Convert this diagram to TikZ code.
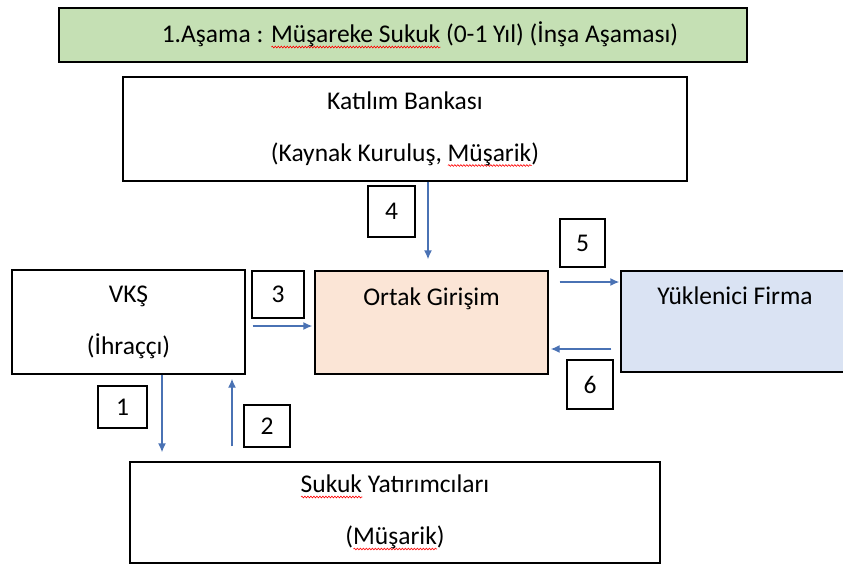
\documentclass[tikz,border=0pt]{standalone}
\usepackage{fontspec}
\setmainfont{Carlito}
\usetikzlibrary{decorations.pathmorphing,arrows.meta}
\definecolor{headgreen}{HTML}{C5E0B4}
\definecolor{jointpeach}{HTML}{FBE5D6}
\definecolor{firmblue}{HTML}{DAE3F3}
\definecolor{flowblue}{HTML}{4A72B4}
\newsavebox{\spellbox}
\newcommand{\spellmark}[1]{\sbox{\spellbox}{#1}\rlap{\tikz[baseline=0pt,x=1pt,y=1pt]\draw[red,line width=0.6pt,decorate,decoration={snake,amplitude=0.9pt,segment length=3pt}] (0pt,-4.5pt) -- (\the\wd\spellbox,-4.5pt);}\usebox{\spellbox}}

\begin{document}
\begin{tikzpicture}[x=1pt,y=-1pt]

    \tikzset{
      box/.style={
        draw,
        line width=1.4pt,
        align=center,
        inner sep=0pt,
        font=\fontsize{25.5}{52}\selectfont,
      },
      numbox/.style={
        box,
        font=\fontsize{25.5}{28}\selectfont,
      },
      flow/.style={
        color=flowblue,
        line width=1.4pt,
        >={Latex[length=9pt,width=8pt]},->,
      },
    }
    \useasboundingbox (0,0) rectangle (843,565);
    \clip (0,0) rectangle (843,565);

	\node[box, fill=headgreen, line width=1.8pt, minimum width=688pt, minimum height=54pt] (head) at (403,35) {};
	\node[font=\fontsize{25.5}{28}\selectfont] (headtext) at (420,35) {1.Aşama : \spellmark{Müşareke Sukuk} (0-1 Yıl) (İnşa Aşaması)};

	\node[box, minimum width=564pt, minimum height=104pt] (bank) at (405,129) {Katılım Bankası\\(Kaynak Kuruluş, \spellmark{Müşarik})};
	\node[box, minimum width=233pt, minimum height=104pt] (vks) at (128.5,322) {VKŞ\\(İhraççı)};
	\node[box, fill=jointpeach, minimum width=233pt, minimum height=103pt] (ortak) at (431.5,322.5) {Ortak Girişim\\\mbox{}};
	\node[box, fill=firmblue, minimum width=228pt, minimum height=101pt] (firma) at (735,321.5) {Yüklenici Firma\\\mbox{}};
	\node[box, minimum width=530pt, minimum height=101pt] (sukuk) at (395,512.5) {\spellmark{Sukuk} Yatırımcıları\\(\spellmark{Müşarik})};

	\node[numbox, minimum width=49pt, minimum height=42pt] (n1) at (122.5,407) {1};
	\node[numbox, minimum width=46pt, minimum height=42pt] (n2) at (267,426) {2};
	\node[numbox, minimum width=52pt, minimum height=47pt] (n3) at (278,294.5) {3};
	\node[numbox, minimum width=47pt, minimum height=51pt] (n4) at (391.5,211.5) {4};
	\node[numbox, minimum width=45pt, minimum height=48pt] (n5) at (582.5,243) {5};
	\node[numbox, minimum width=46pt, minimum height=49pt] (n6) at (590,384.5) {6};

	\draw[flow, shorten >=11pt] ([xshift=-3.5pt]ortak.north |- bank.south) -- ([xshift=-3.5pt]ortak.north);
	\draw[flow, shorten <=7pt, shorten >=2pt] ([yshift=-4pt]vks.east) -- ([yshift=-4pt]vks.east -| ortak.west);
	\draw[flow, shorten <=11pt, shorten >=1pt] ([yshift=40.5pt]ortak.east) -- ([yshift=40.5pt]ortak.east -| firma.west);
	\draw[flow, shorten <=9pt, shorten >=2pt] ([yshift=-27.5pt]firma.west) -- ([yshift=-27.5pt]firma.west -| ortak.east);
	\draw[flow, shorten >=9pt] ([xshift=33.5pt]vks.south) -- ([xshift=33.5pt]vks.south |- sukuk.north);
	\draw[flow, shorten <=15pt, shorten >=4pt] ([xshift=103.5pt]vks.south |- sukuk.north) -- ([xshift=103.5pt]vks.south);

\end{tikzpicture}
\end{document}
